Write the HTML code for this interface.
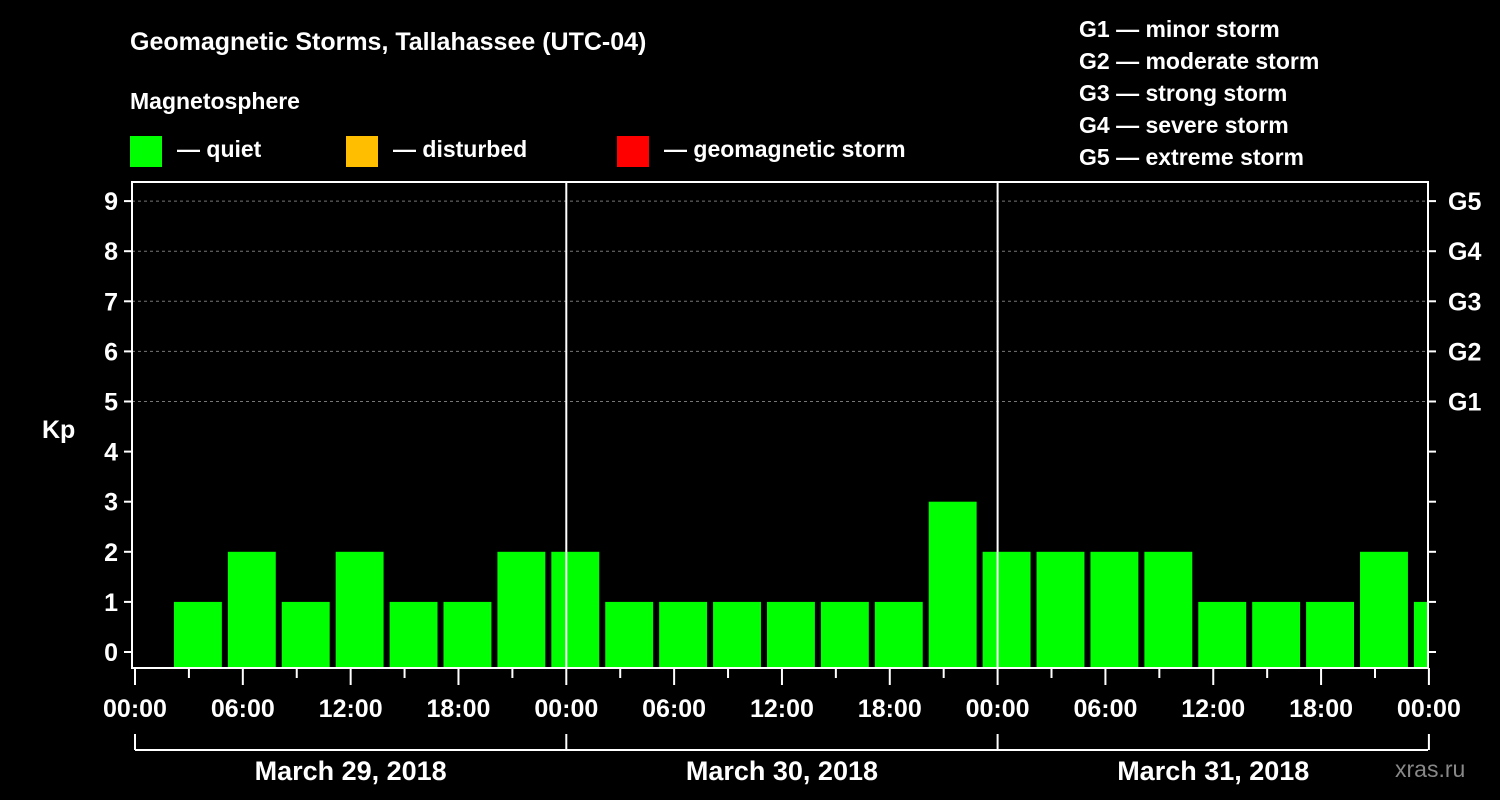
<!DOCTYPE html>
<html><head><meta charset="utf-8"><style>
body{margin:0;background:#000;width:1500px;height:800px;overflow:hidden}
svg{display:block}
text{font-family:"Liberation Sans",Arial,sans-serif;font-weight:bold;fill:#fff}
</style></head><body>
<svg id="c" width="1500" height="800">
<text x="130" y="50" font-size="25">Geomagnetic Storms, Tallahassee (UTC-04)</text>
<text x="130" y="109" font-size="23">Magnetosphere</text>
<rect x="130" y="136" width="32" height="31" fill="#00ff00"/>
<text x="177" y="157" font-size="23">— quiet</text>
<rect x="346" y="136" width="32" height="31" fill="#ffbf00"/>
<text x="393" y="157" font-size="23">— disturbed</text>
<rect x="617" y="136" width="32" height="31" fill="#ff0000"/>
<text x="664" y="157" font-size="23">— geomagnetic storm</text>
<g font-size="23">
<text x="1079" y="37">G1 — minor storm</text>
<text x="1079" y="69">G2 — moderate storm</text>
<text x="1079" y="101">G3 — strong storm</text>
<text x="1079" y="133">G4 — severe storm</text>
<text x="1079" y="165">G5 — extreme storm</text>
</g>
<text x="42" y="438" font-size="25">Kp</text>
<text x="1395" y="777" font-size="23" fill="#888" style="fill:#888;font-weight:normal">xras.ru</text>
<g id="plot"></g>
</svg>
<script>
const kpValues=[1,2,1,2,1,1,2,2, 1,1,1,1,1,1,3,2, 2,2,2,1,1,1,2,1];
const dayLabels=["March 29, 2018","March 30, 2018","March 31, 2018"];
const hourTickLabels=["00:00","06:00","12:00","18:00"];
const gLabels=["G1","G2","G3","G4","G5"];
const firstBinHour=2;
const NS="http://www.w3.org/2000/svg";
const g=document.getElementById('plot');
const X0=135,DAY=431.3,Y0=652,UNIT=50.1,TOP=182,BOT=668,RIGHT=1428,LEFT=132;
const xh=h=>X0+h*DAY/24, yk=k=>Y0-k*UNIT;
function el(t,a){const e=document.createElementNS(NS,t);for(const k in a)e.setAttribute(k,a[k]);g.appendChild(e);return e;}
// gridlines
for(let k=5;k<=9;k++){const l=el('line',{x1:LEFT,x2:RIGHT,y1:yk(k),y2:yk(k),stroke:'#777','stroke-dasharray':'3,3'});

}
// bars
kpValues.forEach((v,i)=>{const h0=firstBinHour+i*3;let x1=xh(h0)+3,x2=Math.min(xh(h0+3)-3,RIGHT);
const c=v>=5?'#ff0000':(v>=4?'#ffbf00':'#00ff00');
const r=el('rect',{x:x1,y:yk(v),width:x2-x1,height:BOT-yk(v),fill:c});

});
// day separators
for(let d=1;d<3;d++){const l=el('line',{x1:xh(d*24),x2:xh(d*24),y1:TOP,y2:BOT,stroke:'#fff','stroke-width':2});

}
// frame
const f=el('rect',{x:LEFT,y:TOP,width:RIGHT-LEFT,height:BOT-TOP,fill:'none',stroke:'#fff','stroke-width':2});


// y ticks
for(let k=0;k<=9;k++){el('line',{x1:LEFT-8,x2:LEFT,y1:yk(k),y2:yk(k),stroke:'#fff','stroke-width':2});
el('line',{x1:RIGHT,x2:RIGHT+8,y1:yk(k),y2:yk(k),stroke:'#fff','stroke-width':2});
const t=el('text',{x:118,y:yk(k)+9,'font-size':25,'text-anchor':'end'});t.textContent=k;


if(k>=5){const gt=el('text',{x:1448,y:yk(k)+9,'font-size':25});gt.textContent=gLabels[k-5];

}}
// x ticks
for(let h=0;h<=72;h+=3){const major=h%6==0;el('line',{x1:xh(h),x2:xh(h),y1:BOT,y2:BOT+(major?17:10),stroke:'#fff','stroke-width':2});
if(major&&(h%24)%6==0&&[0,6,12,18].includes(h%24)||h==72){const t=el('text',{x:xh(h),y:717,'font-size':25,'text-anchor':'middle'});
t.textContent=hourTickLabels[(h%24)/6];

}}
// day bracket
el('line',{x1:X0,x2:RIGHT,y1:750,y2:750,stroke:'#fff','stroke-width':2});
for(let d=0;d<=3;d++)el('line',{x1:xh(d*24),x2:xh(d*24),y1:734,y2:750,stroke:'#fff','stroke-width':2});
dayLabels.forEach((s,d)=>{const t=el('text',{x:xh(d*24+12),y:780,'font-size':27,'text-anchor':'middle'});t.textContent=s;

});
</script>
</body></html>
